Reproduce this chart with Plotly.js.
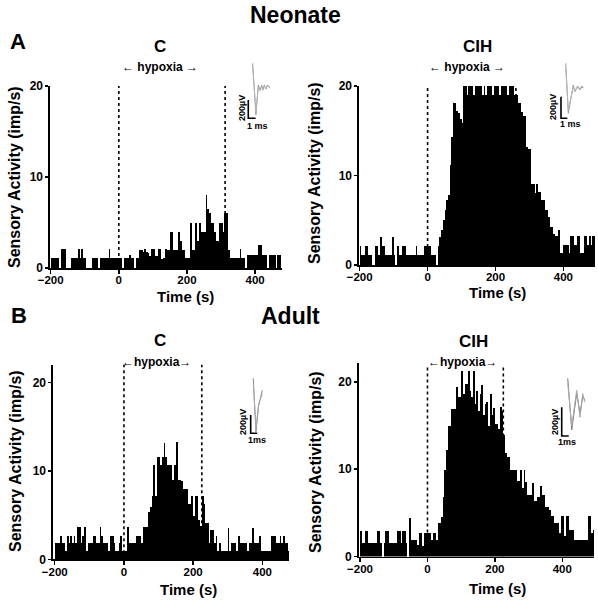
<!DOCTYPE html>
<html><head><meta charset="utf-8">
<script src="https://cdn.plot.ly/plotly-3.0.1.min.js"></script>
<style>html,body{margin:0;padding:0;background:#fff}</style>
</head><body><div id="chart" style="width:598px;height:601px"></div>
<script>
// ---- data (5 s bins starting at -200 s) ----
const binStart = -200;
const binWidth = 5;
const xTickVals = [-200, 0, 200, 400];
const yTickVals = [0, 10, 20];

const neonateC = [
 1.1,1.1,1.1,1.1,1.1,0,2.1,2.1,2.1,0,
 0,0,1.1,1.1,1.1,1.1,2.1,1.1,2.1,1.1,
 1.1,0,0,0,1.1,1.1,1.1,1.1,0,1.1,
 1.1,1.1,1.1,1.1,2.1,1.1,1.1,1.1,1.1,1.1,
 1.1,1.1,0,1.1,1.1,1.1,1.4,1.1,1.1,0,
 1.1,1.1,2.0,2.0,1.8,2.1,1.8,1.6,1.3,2.1,
 2.1,1.3,1.3,2.1,2.1,1.0,1.1,2.1,2.0,2.0,
 4.0,4.0,2.0,2.0,2.0,4.0,3.0,2.0,2.0,1.1,
 1.1,1.1,4.9,2.0,2.0,4.9,3.0,4.9,4.0,4.0,
 4.0,8.0,6.5,6.0,4.9,4.9,4.0,3.0,3.0,4.9,
 4.9,4.0,6.0,6.0,2.0,1.1,1.1,1.1,1.1,1.1,
 1.1,2.1,1.1,1.1,0,1.4,1.4,1.4,1.4,1.4,
 1.4,1.4,2.5,2.5,1.4,1.4,1.4,0,1.4,1.4,
 1.4,1.4,0,1.4,1.4,0
];
const neonateCIH = [
 2.1,1.1,1.1,2.1,2.1,1.1,1.1,0,0,2.1,
 2.1,1.1,3.1,2.1,2.1,1.1,1.1,1.1,1.1,3.1,
 1.1,0,2.1,1.1,1.1,2.1,2.1,1.1,1.1,1.1,
 1.1,1.1,1.1,2.1,1.1,1.1,1.1,1.1,2.1,2.1,
 2.1,2.1,1.1,1.1,1.1,0,2.1,3.1,3.9,5.0,
 6.1,7.3,7.8,11.2,14.3,18.1,18.1,17.2,17.0,16.3,
 15.9,20,20,19,20,20,20,19,20,20,
 20,20,19,20,19,20,20,20,19,20,
 20,20,19,20,20,20,20,19,20,20,
 20,19,19,18.1,18.1,17.1,16.6,16.6,13.2,13.0,
 13.0,9.1,9.1,8.0,9.0,8.2,8.2,7.3,7.3,6.1,
 6.1,5.4,4.3,4.3,3.5,3.2,3.2,3.9,1.3,1.3,
 2.2,2.2,2.2,1.3,3.2,3.2,2.2,2.2,3.2,3.2,
 1.3,1.3,3.2,3.2,2.2,3.2,2.2,3.2,3.2
];
const adultC = [
 1.8,1.8,1.8,2.6,1.8,1.8,0.9,2.6,1.8,2.6,
 1.8,2.6,1.8,3.6,3.6,1.8,2.6,3.6,0.9,1.8,
 1.8,1.8,2.6,2.6,1.8,1.8,3.6,2.6,1.8,1.8,
 1.8,0.9,2.6,2.6,1.8,0.9,0.9,1.8,2.6,0.9,
 0.9,0.9,3.6,1.8,1.8,1.8,1.8,2.6,2.6,2.6,
 1.8,3.6,3.6,3.6,5.4,5.9,7.1,10.6,7.1,11.6,
 11.6,10.6,11.6,13.1,11.6,10.7,10.7,10.7,9.0,10.6,
 13.3,9.0,9.0,8.8,8.0,8.0,8.0,6.3,6.3,7.1,
 4.9,7.1,7.1,4.4,3.8,7.1,6.3,4.1,4.1,1.8,
 3.3,3.3,1.8,2.6,0.9,1.8,0.9,0.9,0.9,0.9,
 3.5,0.9,1.8,1.8,1.8,0.9,2.6,1.8,1.8,1.8,
 1.8,0.9,1.8,1.8,3.5,1.8,1.8,1.8,2.6,0.9,
 0.9,0.9,0.9,0.9,0.9,2.6,2.6,2.6,1.8,1.8,
 2.6,1.8,2.6,1.8,1.8,0.9
];
const adultCIH = [
 2.95,1.5,1.5,2.95,2.95,1.5,1.5,1.5,1.5,1.5,
 2.95,2.95,1.5,0,1.5,2.95,2.95,1.5,1.5,1.5,
 1.5,1.5,2.95,2.95,1.5,2.95,2.95,1.5,0,4.4,
 1.9,1.9,1.9,1.9,1.3,2.7,2.7,1.2,2.7,2.7,
 2.7,2.7,1.9,2.7,2.7,1.9,3.8,3.8,4.5,6.8,
 9.9,12.2,15.0,15.0,16.9,16.9,16.9,19.4,18.3,18.3,
 21.3,18.6,19.8,19.8,21.3,19.0,18.3,21.3,17.5,19.0,
 16.7,18.6,19.6,16.2,17.5,17.7,15.0,18.6,16.2,17.0,
 15.2,15.2,14.6,17.1,16.7,13.9,11.8,11.4,11.4,9.9,
 9.9,9.9,9.9,8.7,8.7,9.9,7.8,9.9,8.5,7.0,
 7.0,7.0,8.4,6.4,6.4,6.8,6.8,8.1,7.0,7.0,
 5.7,5.7,5.3,4.6,4.6,3.8,3.8,3.8,2.7,4.6,
 4.6,2.4,4.6,4.6,3.0,3.0,3.0,1.9,1.9,1.9,
 1.9,1.9,1.9,1.9,1.9,4.6,4.6,2.7,3.0,1.2
];

// hypoxia window boundaries (s)
const hypoxiaNeoC = [0, 312];
const hypoxiaNeoCIH = [0, 260];
const hypoxiaAdC = [0, 225];
const hypoxiaAdCIH = [0, 225];

// example spike waveforms for insets (ms, µV)
const waveA_t = [0.6, 1.05, 1.37, 1.6, 1.84, 2.0, 2.2, 2.42, 2.63, 2.97];
const waveA_v1 = [601, 36, 364, 309, 364, 309, 364, 320, 364, 331];
const waveA_v2 = [560, 70, 340, 300, 345, 318, 350, 330, 352, 338];
const waveB_t = [0.75, 1.16, 1.95, 2.22, 2.65, 3.0, 3.3, 3.54];
const waveB_v1 = [509, 46, 308, 246, 293, 262, 290, 281];
const waveB_v2 = [470, 80, 290, 255, 300, 270, 300, 285];
const waveC_t = [0.39, 0.8, 1.2, 1.76];
const waveC_v1 = [601, 17, 300, 470];
const waveC_v2 = [540, 60, 320, 430];
const waveD_t = [0.86, 1.43, 2.14, 2.61, 3.0, 3.3];
const waveD_v1 = [402, 42, 298, 158, 274, 250];
const waveD_v2 = [370, 70, 320, 130, 295, 235];
const scaleBar_t = [0, 0, 1];   // 1 ms
const scaleBar_v = [200, 0, 0]; // 200 µV

// ---- layout helpers ----
const W = 598, H = 601;
const fx = p => p / W;
const fy = p => 1 - p / H;
const FONT = 'Liberation Sans, Arial, Helvetica, sans-serif';

function barTrace(vals, xa, ya) {
  return {type:'bar', x0: binStart + binWidth/2, dx: binWidth, y: vals, width: binWidth,
    marker:{color:'#000', line:{width:0}}, xaxis: xa, yaxis: ya, hoverinfo:'skip', showlegend:false};
}
function lineTrace(t, v, xa, ya, color, w) {
  return {type:'scatter', mode:'lines', x:t, y:v, xaxis:xa, yaxis:ya,
    line:{color:color, width:w}, hoverinfo:'skip', showlegend:false};
}

const traces = [
  barTrace(neonateC, 'x', 'y'),
  barTrace(neonateCIH, 'x2', 'y2'),
  barTrace(adultC, 'x3', 'y3'),
  barTrace(adultCIH, 'x4', 'y4'),
  lineTrace(waveA_t, waveA_v1, 'x5', 'y5', '#9a9a9a', 1),
  lineTrace(waveA_t, waveA_v2, 'x5', 'y5', '#b5b5b5', 1),
  lineTrace(scaleBar_t, scaleBar_v, 'x5', 'y5', '#000', 1.6),
  lineTrace(waveB_t, waveB_v1, 'x6', 'y6', '#9a9a9a', 1),
  lineTrace(waveB_t, waveB_v2, 'x6', 'y6', '#b5b5b5', 1),
  lineTrace(scaleBar_t, scaleBar_v, 'x6', 'y6', '#000', 1.6),
  lineTrace(waveC_t, waveC_v1, 'x7', 'y7', '#888', 1),
  lineTrace(waveC_t, waveC_v2, 'x7', 'y7', '#aaa', 1),
  lineTrace(scaleBar_t, scaleBar_v, 'x7', 'y7', '#000', 1.6),
  lineTrace(waveD_t, waveD_v1, 'x8', 'y8', '#777', 1),
  lineTrace(waveD_t, waveD_v2, 'x8', 'y8', '#aaa', 1),
  lineTrace(scaleBar_t, scaleBar_v, 'x8', 'y8', '#000', 1.6)
];

function xAx(d0, d1, r0, r1, anchor) {
  return {domain:[fx(d0), fx(d1)], range:[r0, r1], anchor:anchor, showline:true, linecolor:'#000', linewidth:1.6,
    ticks:'outside', ticklen:4, tickwidth:1.5, tickcolor:'#000', tickvals:xTickVals,
    ticklabelstandoff:-3,
    showgrid:false, zeroline:false, fixedrange:true,
    tickfont:{family:FONT, size:11.5, color:'#000', weight:'bold'}};
}
function yAx(top, bottom, r1, anchor) {
  return {domain:[fy(bottom), fy(top)], range:[0, r1], anchor:anchor, showline:true, linecolor:'#000', linewidth:1.6,
    ticks:'outside', ticklen:3, tickwidth:1.5, tickcolor:'#000', tickvals:yTickVals,
    showgrid:false, zeroline:false, fixedrange:true,
    tickfont:{family:FONT, size:12, color:'#000', weight:'bold'}};
}
function inset(x0, x1, y0, y1, xr, yr, anchor) {
  return [{domain:[fx(x0), fx(x1)], range:xr, visible:false, fixedrange:true, anchor:anchor[1]},
          {domain:[fy(y1), fy(y0)], range:yr, visible:false, fixedrange:true, anchor:anchor[0]}];
}
const i5 = inset(245, 275, 60, 125, [-0.45, 3.66], [-73, 637], ['x5','y5']);
const i6 = inset(555, 590, 58, 125, [-0.95, 4.6], [-62, 558], ['x6','y6']);
const i7 = inset(245, 270, 372, 440, [-0.86, 2.92], [-73, 670], ['x7','y7']);
const i8 = inset(555, 590, 372, 445, [-0.96, 4.04], [-63, 446], ['x8','y8']);

function vline(xv, xa, ya, ymax) {
  return {type:'line', xref:xa, yref:ya, x0:xv, x1:xv, y0:0, y1:ymax, layer:'below',
    line:{color:'#000', width:1.6, dash:'dot'}};
}
const shapes = [
  vline(hypoxiaNeoC[0], 'x', 'y', 20), vline(hypoxiaNeoC[1], 'x', 'y', 20),
  vline(hypoxiaNeoCIH[0], 'x2', 'y2', 20), vline(hypoxiaNeoCIH[1], 'x2', 'y2', 20),
  vline(hypoxiaAdC[0], 'x3', 'y3', 22), vline(hypoxiaAdC[1], 'x3', 'y3', 22),
  vline(hypoxiaAdCIH[0], 'x4', 'y4', 22), vline(hypoxiaAdCIH[1], 'x4', 'y4', 22)
];

function ann(text, px, py, size, angle) {
  return {text:text, x:fx(px), y:fy(py), xref:'paper', yref:'paper', showarrow:false,
    xanchor:'center', yanchor:'middle', textangle:angle || 0,
    font:{family:FONT, size:size, color:'#000', weight:'bold'}};
}
const annotations = [
  ann('Neonate', 295, 15, 23),
  ann('Adult', 290, 316, 23),
  ann('A', 18, 42, 22),
  ann('B', 19, 315, 22),
  ann('C', 160, 46, 17),
  ann('CIH', 477, 46, 17),
  ann('C', 160, 340, 17),
  ann('CIH', 473, 341, 17),
  ann('\u2190 hypoxia \u2192', 160, 67, 12),
  ann('\u2190 hypoxia \u2192', 467, 67, 12),
  ann('\u2190hypoxia\u2192', 156, 362, 12),
  ann('\u2190hypoxia\u2192', 462, 362, 12),
  ann('Sensory Activity (imp/s)', 15, 177, 16, -90),
  ann('Sensory Activity (imp/s)', 315, 173, 16, -90),
  ann('Sensory Activity (imp/s)', 15, 461, 16, -90),
  ann('Sensory Activity (imp/s)', 315, 462, 16, -90),
  ann('Time (s)', 185, 296, 15),
  ann('Time (s)', 497, 292, 15),
  ann('Time (s)', 188, 589, 15),
  ann('Time (s)', 497, 588, 15),
  ann('200\u00b5V', 242, 108, 9, -90),
  ann('1 ms', 257, 126, 9),
  ann('200\u00b5V', 553, 107, 9, -90),
  ann('1 ms', 570, 124, 9),
  ann('200\u00b5V', 243, 422, 9, -90),
  ann('1ms', 257, 440, 9),
  ann('200\u00b5V', 555, 422, 9, -90),
  ann('1ms', 567, 442, 9)
];

const layout = {
  width: W, height: H, margin:{l:0, r:0, t:0, b:0},
  paper_bgcolor:'#fff', plot_bgcolor:'rgba(0,0,0,0)',
  bargap: 0, showlegend:false,
  font:{family:FONT, color:'#000'},
  xaxis: xAx(50, 282, -202, 479, 'y'),
  yaxis: yAx(86, 268, 20, 'x'),
  xaxis2: xAx(359, 595, -202, 493, 'y2'),
  yaxis2: yAx(86, 265, 20, 'x2'),
  xaxis3: xAx(53, 289, -205, 477, 'y3'),
  yaxis3: yAx(364.6, 559.3, 22, 'x3'),
  xaxis4: xAx(358.7, 594, -204, 494, 'y4'),
  yaxis4: yAx(362.7, 556.5, 22.2, 'x4'),
  xaxis5: i5[0], yaxis5: i5[1],
  xaxis6: i6[0], yaxis6: i6[1],
  xaxis7: i7[0], yaxis7: i7[1],
  xaxis8: i8[0], yaxis8: i8[1],
  shapes: shapes,
  annotations: annotations
};

Plotly.newPlot('chart', traces, layout, {staticPlot:true, displayModeBar:false});
</script>
</body></html>
